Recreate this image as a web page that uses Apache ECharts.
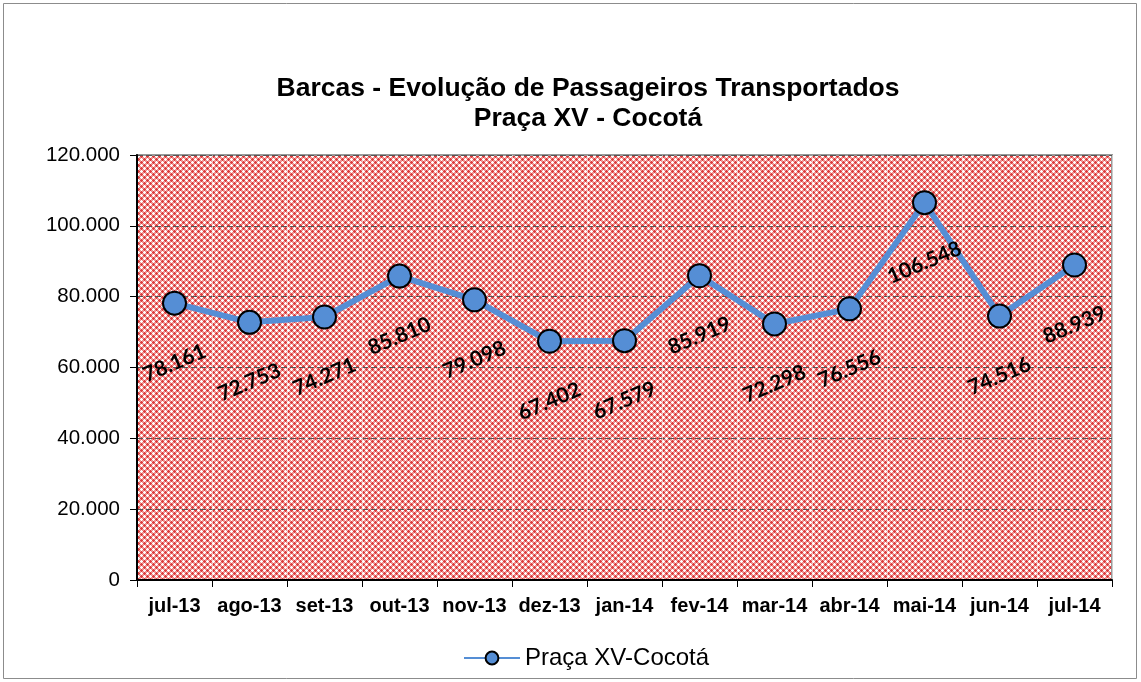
<!DOCTYPE html>
<html>
<head>
<meta charset="utf-8">
<script src="https://cdn.jsdelivr.net/npm/echarts@6/dist/echarts.min.js"></script>
<style>
  html, body { margin: 0; padding: 0; background: #fff; }
  #main { width: 1141px; height: 682px; }
</style>
</head>
<body>
<div id="main"></div>
<script>
// dados
var meses = ['jul-13', 'ago-13', 'set-13', 'out-13', 'nov-13', 'dez-13', 'jan-14',
             'fev-14', 'mar-14', 'abr-14', 'mai-14', 'jun-14', 'jul-14'];
var passageiros = [78161, 72753, 74271, 85810, 79098, 67402, 67579,
                   85919, 72298, 76556, 106548, 74516, 88939];
var nomeSerie = 'Praça XV-Cocotá';

function fmt(v) {
  return String(Math.round(v)).replace(/\B(?=(\d{3})+(?!\d))/g, '.');
}

// textura do fundo: cruzinhas brancas e vermelhas alternadas sobre rosa
var tile = document.createElement('canvas');
tile.width = 6; tile.height = 6;
var ctx = tile.getContext('2d');
function dist6(a, b) {
  var d = Math.abs(a - b) % 6;
  return Math.min(d, 6 - d);
}
for (var x = 0; x < 6; x++) {
  for (var y = 0; y < 6; y++) {
    var dw1 = dist6(x, 0) + dist6(y, 0);
    var dw2 = dist6(x, 3) + dist6(y, 3);
    var dr1 = dist6(x, 0) + dist6(y, 3);
    var dr2 = dist6(x, 3) + dist6(y, 0);
    if (dw1 <= 1 || dw2 <= 1) ctx.fillStyle = '#ffffff';
    else if (dr1 <= 1 || dr2 <= 1) ctx.fillStyle = '#dc3c3c';
    else ctx.fillStyle = '#ef9694';
    ctx.fillRect(x, y, 1, 1);
  }
}

// rótulo girado 23 graus, abaixo do ponto
var rot = 23, dist = 60;
var rad = rot * Math.PI / 180;
var labelOffset = [-dist * Math.sin(rad), dist * Math.cos(rad)];

var myChart = echarts.init(document.getElementById('main'));

var option = {
  animation: false,
  title: {
    text: 'Barcas - Evolução de Passageiros Transportados',
    subtext: 'Praça XV - Cocotá',
    left: 583,
    textAlign: 'center',
    top: 69,
    itemGap: 0,
    textStyle: {
      fontFamily: 'Liberation Sans',
      fontSize: 26.5,
      fontWeight: 'bold',
      color: '#000',
      lineHeight: 30
    },
    subtextStyle: {
      fontFamily: 'Liberation Sans',
      fontSize: 26.5,
      fontWeight: 'bold',
      color: '#000',
      lineHeight: 30
    }
  },
  legend: {
    top: 641,
    left: 458,
    itemWidth: 56,
    itemHeight: 16,
    itemGap: 8,
    textStyle: { fontFamily: 'Liberation Sans', fontSize: 24, color: '#000' },
    data: [nomeSerie]
  },
  graphic: [{
    type: 'rect',
    shape: { x: 3.5, y: 3.5, width: 1133, height: 675 },
    style: { fill: null, stroke: '#8c8c8c', lineWidth: 1 },
    silent: true
  }],
  grid: {
    left: 137,
    right: 29,
    top: 155,
    bottom: 102,
    show: true,
    backgroundColor: { image: tile, repeat: 'repeat' },
    borderColor: '#999',
    borderWidth: 2
  },
  xAxis: {
    type: 'category',
    data: meses,
    boundaryGap: true,
    axisLine: { lineStyle: { color: '#000', width: 2 } },
    axisTick: { show: true, length: 7, lineStyle: { color: '#000' } },
    splitLine: { show: true, interval: 0, lineStyle: { color: 'rgba(255,255,255,0.5)', width: 1 } },
    axisLabel: {
      interval: 0,
      margin: 16,
      fontFamily: 'Liberation Sans',
      fontSize: 20,
      fontWeight: 'bold',
      color: '#000'
    }
  },
  yAxis: {
    type: 'value',
    min: 0,
    max: 120000,
    interval: 20000,
    axisLine: { show: true, lineStyle: { color: '#000', width: 2 } },
    axisTick: { show: true, length: 7, lineStyle: { color: '#000' } },
    splitLine: { show: true, lineStyle: { color: '#555', type: [6, 3], width: 1 } },
    axisLabel: {
      margin: 17,
      fontFamily: 'Liberation Sans',
      fontSize: 20.5,
      color: '#000',
      formatter: function (v) { return fmt(v); }
    }
  },
  series: [{
    name: nomeSerie,
    type: 'line',
    data: passageiros,
    symbol: 'circle',
    symbolSize: 23,
    lineStyle: { color: '#558ed5', width: 6 },
    itemStyle: { color: '#558ed5', borderColor: '#000', borderWidth: 2 },
    label: {
      show: true,
      position: 'inside',
      offset: labelOffset,
      rotate: rot,
      align: 'center',
      verticalAlign: 'middle',
      fontFamily: 'Lato',
      fontSize: 21,
      fontWeight: 'bold',
      color: '#000',
      formatter: function (p) { return fmt(p.value); }
    },
    z: 3
  }]
};

myChart.setOption(option);
</script>
</body>
</html>
